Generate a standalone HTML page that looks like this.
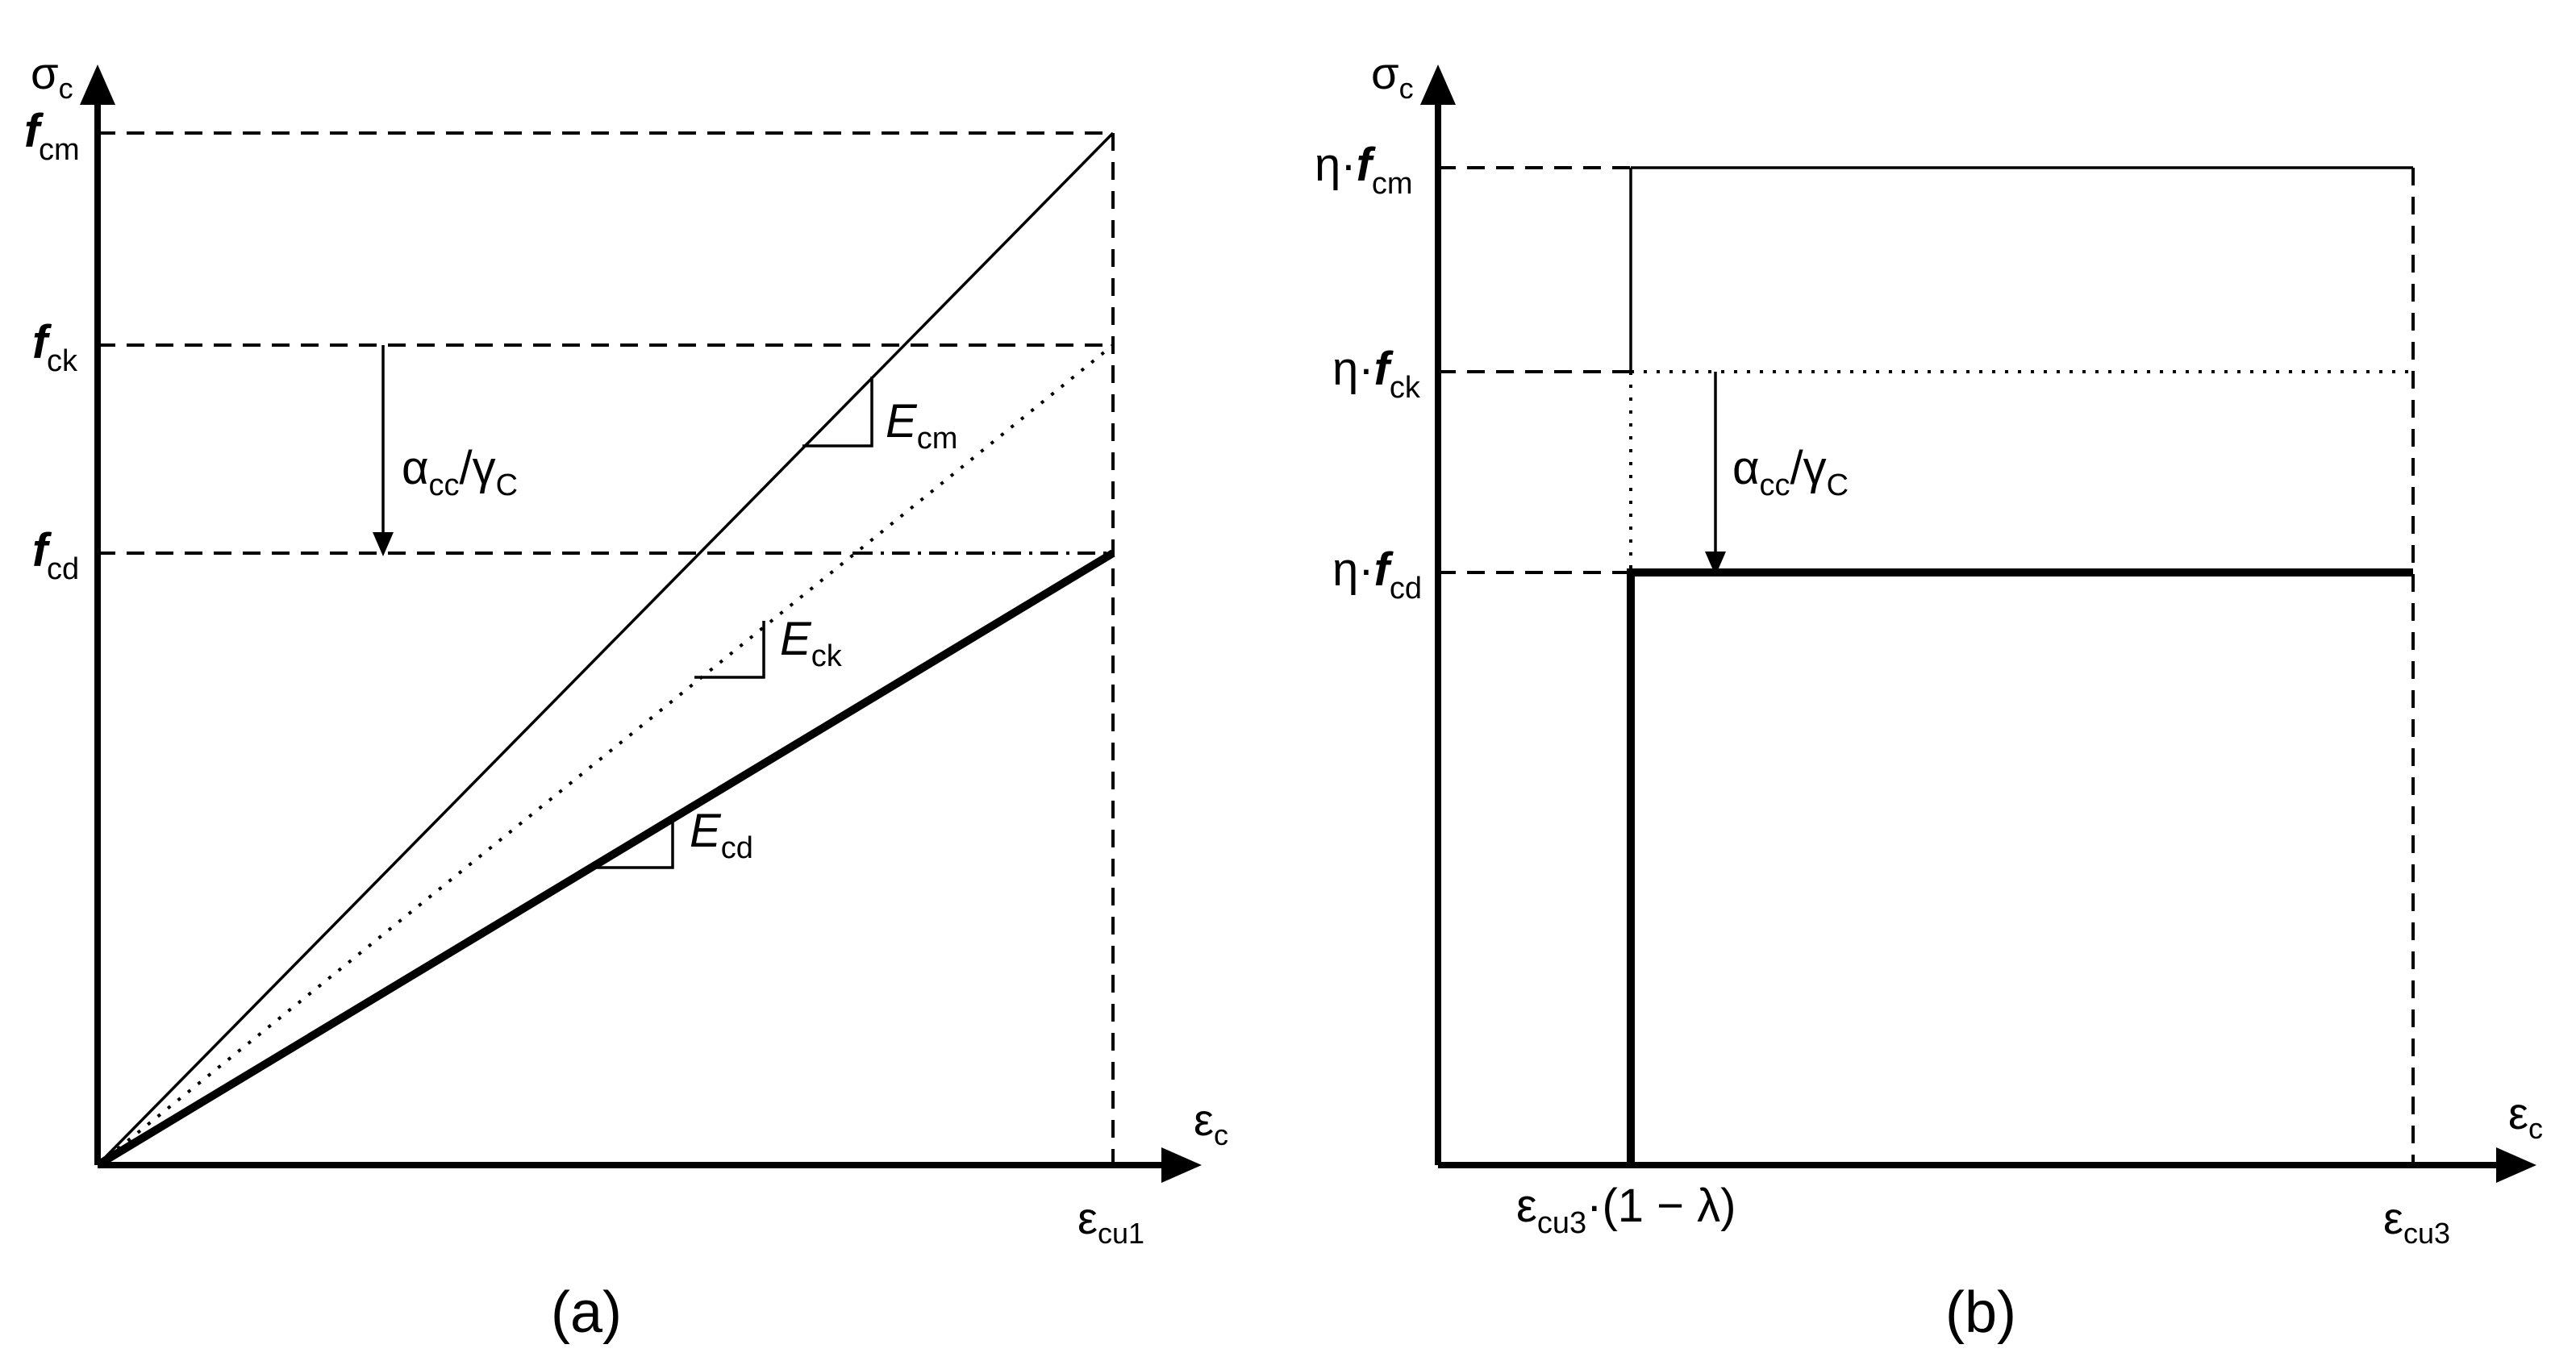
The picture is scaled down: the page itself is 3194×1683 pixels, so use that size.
<!DOCTYPE html>
<html><head><meta charset="utf-8"><style>
html,body{margin:0;padding:0;background:#fff}
svg{display:block}
text{font-family:"Liberation Sans",sans-serif;fill:#000}
.it{font-style:italic;font-weight:bold}
</style></head><body>
<svg width="3194" height="1683" viewBox="0 0 3194 1683" xmlns="http://www.w3.org/2000/svg">
<g stroke="#000" fill="none">
<!-- Panel a -->
<line x1="121" y1="1445" x2="121" y2="110" stroke-width="8"/>
<line x1="121" y1="1445" x2="1455" y2="1445" stroke-width="8"/>
<line x1="121" y1="165" x2="1380" y2="165" stroke-width="4" stroke-dasharray="22,14"/>
<line x1="121" y1="428" x2="1380" y2="428" stroke-width="4" stroke-dasharray="22,14"/>
<line x1="121" y1="686" x2="1060" y2="686" stroke-width="4" stroke-dasharray="22,14"/>
<line x1="1060" y1="686" x2="1380" y2="686" stroke-width="4" stroke-dasharray="22,10,4,10"/>
<line x1="1380" y1="165" x2="1380" y2="1445" stroke-width="4" stroke-dasharray="22,14"/>
<line x1="121" y1="1445" x2="1380" y2="165" stroke-width="3.5"/>
<line x1="121" y1="1445" x2="1380" y2="428" stroke-width="4" stroke-dasharray="4,12"/>
<line x1="121" y1="1445" x2="1380" y2="686" stroke-width="10"/>
<polyline points="995,553 1081,553 1081,467" stroke-width="3.5"/>
<polyline points="861,840 947,840 947,770" stroke-width="3.5"/>
<polyline points="732,1076 834,1076 834,1012" stroke-width="3.5"/>
<line x1="475" y1="428" x2="475" y2="660" stroke-width="3.5"/>
<!-- Panel b -->
<line x1="1783" y1="1445" x2="1783" y2="110" stroke-width="8"/>
<line x1="1783" y1="1445" x2="3110" y2="1445" stroke-width="8"/>
<line x1="1783" y1="208" x2="2022" y2="208" stroke-width="4" stroke-dasharray="22,14"/>
<line x1="2022" y1="208" x2="2992" y2="208" stroke-width="3.5"/>
<line x1="2992" y1="208" x2="2992" y2="1445" stroke-width="4" stroke-dasharray="22,14"/>
<line x1="2022" y1="208" x2="2022" y2="461" stroke-width="3.5"/>
<line x1="1783" y1="461" x2="2022" y2="461" stroke-width="4" stroke-dasharray="22,14"/>
<line x1="2022" y1="461" x2="2992" y2="461" stroke-width="4" stroke-dasharray="4,12"/>
<line x1="2022" y1="461" x2="2022" y2="710" stroke-width="4" stroke-dasharray="4,12"/>
<line x1="1783" y1="710" x2="2022" y2="710" stroke-width="4" stroke-dasharray="22,14"/>
<polyline points="2022,1445 2022,710 2992,710" stroke-width="10"/>
<line x1="2127" y1="461" x2="2127" y2="685" stroke-width="3.5"/>
</g>
<g fill="#000">
<polygon points="121,80 99,130 143,130"/>
<polygon points="1490,1445 1440,1423 1440,1467"/>
<polygon points="475,690 462,660 488,660"/>
<polygon points="1783,80 1761,130 1805,130"/>
<polygon points="3145,1445 3095,1423 3095,1467"/>
<polygon points="2127,714 2114,684 2140,684"/>
</g>
<!-- labels a -->
<text x="38" y="110" font-size="56">σ<tspan font-size="36" dy="12">c</tspan></text>
<text x="30" y="182" font-size="58" class="it">f</text><text x="48" y="198" font-size="38">cm</text>
<text x="40" y="444" font-size="58" class="it">f</text><text x="58" y="460" font-size="38">ck</text>
<text x="40" y="702" font-size="58" class="it">f</text><text x="58" y="718" font-size="38">cd</text>
<text x="498" y="600" font-size="58">α<tspan font-size="38" dy="14">cc</tspan><tspan font-size="58" dy="-14">/γ</tspan><tspan font-size="38" dy="14">C</tspan></text>
<text x="1098" y="542" font-size="58" font-style="italic">E<tspan font-size="38" font-style="normal" dy="14">cm</tspan></text>
<text x="967" y="812" font-size="58" font-style="italic">E<tspan font-size="38" font-style="normal" dy="14">ck</tspan></text>
<text x="855" y="1050" font-size="58" font-style="italic">E<tspan font-size="38" font-style="normal" dy="14">cd</tspan></text>
<text x="1480" y="1408" font-size="56">ε<tspan font-size="36" dy="12">c</tspan></text>
<text x="1336" y="1530" font-size="56">ε<tspan font-size="36" dy="12">cu1</tspan></text>
<text x="727" y="1652" font-size="72" font-family="Liberation Serif" text-anchor="middle">(a)</text>
<!-- labels b -->
<text x="1700" y="110" font-size="56">σ<tspan font-size="36" dy="12">c</tspan></text>
<text x="1630" y="224" font-size="58">η·<tspan class="it">f</tspan><tspan font-size="38" dy="16">cm</tspan></text>
<text x="1652" y="477" font-size="58">η·<tspan class="it">f</tspan><tspan font-size="38" dy="16">ck</tspan></text>
<text x="1652" y="726" font-size="58">η·<tspan class="it">f</tspan><tspan font-size="38" dy="16">cd</tspan></text>
<text x="2148" y="600" font-size="58">α<tspan font-size="38" dy="14">cc</tspan><tspan font-size="58" dy="-14">/γ</tspan><tspan font-size="38" dy="14">C</tspan></text>
<text x="3110" y="1400" font-size="56">ε<tspan font-size="36" dy="12">c</tspan></text>
<text x="1880" y="1515" font-size="58">ε<tspan font-size="38" dy="14">cu3</tspan><tspan dy="-14">·(1 − λ)</tspan></text>
<text x="2955" y="1530" font-size="56">ε<tspan font-size="36" dy="12">cu3</tspan></text>
<text x="2456" y="1652" font-size="72" font-family="Liberation Serif" text-anchor="middle">(b)</text>
</svg>
</body></html>
